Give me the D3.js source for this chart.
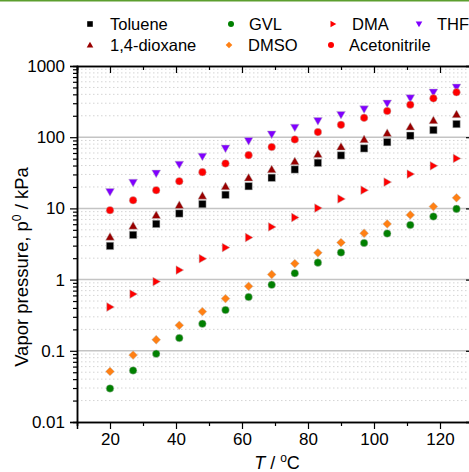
<!DOCTYPE html>
<html>
<head>
<meta charset="utf-8">
<script src="https://cdn.jsdelivr.net/npm/d3@7"></script>
<style>
  html, body { margin: 0; padding: 0; background: #fff; overflow: hidden; }
  svg { display: block; font-family: "Liberation Sans", Arial, sans-serif; }
</style>
</head>
<body>
<svg id="chart" width="469" height="472"></svg>
<script>
// Temperatures (°C) at which the vapor pressures were evaluated
const temperatures = [20, 27, 34, 41, 48, 55, 62, 69, 76, 83, 90, 97, 104, 111, 118, 125];

// Vapor pressure, kPa
const toluene      = [2.97, 4.24, 6.05, 8.48, 11.5, 15.5, 20.5, 26.9, 35.2, 43.6, 55.5, 69.6, 85.3, 105, 126, 153];
const dioxane      = [3.97, 5.67, 8.02, 11.1, 15.0, 20.3, 26.9, 35.2, 45.7, 57.8, 73.3, 93, 114, 140, 172, 209];
const gvl          = [0.0296, 0.053, 0.091, 0.151, 0.240, 0.374, 0.569, 0.845, 1.23, 1.73, 2.40, 3.27, 4.44, 5.86, 7.69, 9.84];
const dmso         = [0.0513, 0.087, 0.143, 0.228, 0.355, 0.541, 0.805, 1.18, 1.68, 2.38, 3.31, 4.48, 6.05, 8.11, 10.6, 14.1];
const dma          = [0.412, 0.627, 0.937, 1.36, 1.97, 2.82, 3.9, 5.5, 7.45, 10.1, 13.6, 18.0, 23.4, 30.3, 39.6, 50.3];
const acetonitrile = [9.44, 13.0, 18.0, 24.1, 32.3, 42.8, 56.0, 72.8, 93, 118, 149, 187, 233, 286, 351, 427];
const thf          = [17.1, 23.1, 31.0, 41.4, 53.7, 69.6, 89, 110, 137, 170, 207, 248, 299, 355, 427, 502];

// Axis ticks
const xMajorTicks = [20, 40, 60, 80, 100, 120];
const xMinorTicks = [10, 30, 50, 70, 90, 110, 130];
const yMajorTicks = [0.01, 0.1, 1, 10, 100, 1000];
const yTickLabels = ["0.01", "0.1", "1", "10", "100", "1000"];

// Series in legend order
const series = [
  { name: "Toluene",      values: toluene,      color: "#000000", shape: "square" },
  { name: "1,4-dioxane",  values: dioxane,      color: "#990000", shape: "triUp" },
  { name: "GVL",          values: gvl,          color: "#008000", shape: "circle" },
  { name: "DMSO",         values: dmso,         color: "#ff8014", shape: "diamond" },
  { name: "DMA",          values: dma,          color: "#ff0000", shape: "triRight" },
  { name: "Acetonitrile", values: acetonitrile, color: "#ff0000", shape: "circle" },
  { name: "THF",          values: thf,          color: "#8000ff", shape: "triDown" }
];

const svg = d3.select("#chart");
const W = 469, H = 472;
const plot = { left: 77, right: 473, top: 66, bottom: 422 };

const x = d3.scaleLinear().domain([10, 130]).range([plot.left, plot.right]);
const y = d3.scaleLog().domain([0.01, 1000]).range([plot.bottom, plot.top]);

// Thin green rule along the very top
svg.append("rect").attr("x", 0).attr("y", 0).attr("width", W).attr("height", 1.5).attr("fill", "#5c9e2e");

// Marker path generator; s is the nominal marker width in px
function markerPath(shape, s) {
  const h = s / 2;
  switch (shape) {
    case "square":  return `M${-h},${-h}H${h}V${h}H${-h}Z`;
    case "circle":  return `M${h},0A${h},${h} 0 1,1 ${-h},0A${h},${h} 0 1,1 ${h},0Z`;
    case "diamond": return `M0,${-h}L${h},0L0,${h}L${-h},0Z`;
    case "triUp":   return `M0,${-h}L${h},${h * 0.75}L${-h},${h * 0.75}Z`;
    case "triDown": return `M0,${h}L${h},${-h * 0.75}L${-h},${-h * 0.75}Z`;
    case "triRight":return `M${h},0L${-h * 0.75},${h}L${-h * 0.75},${-h}Z`;
  }
}

// Grid: minor dotted lines inside each decade, solid lines at each decade
const minorY = [];
for (let e = -2; e < 3; e++) for (let m = 2; m <= 9; m++) minorY.push(m * Math.pow(10, e));
const grid = svg.append("g");
grid.selectAll("line.minor").data(minorY).join("line")
  .attr("x1", plot.left).attr("x2", plot.right)
  .attr("y1", d => y(d)).attr("y2", d => y(d))
  .attr("stroke", "#d4d4d4").attr("stroke-width", 1).attr("stroke-dasharray", "1.5,2.5");
grid.selectAll("line.major").data(yMajorTicks.slice(1, -1)).join("line")
  .attr("x1", plot.left).attr("x2", plot.right)
  .attr("y1", d => y(d)).attr("y2", d => y(d))
  .attr("stroke", "#c4c4c4").attr("stroke-width", 1.5);

// Axes
const axisColor = "#000";
const fmt = d => yTickLabels[yMajorTicks.indexOf(d)];

const gBottom = svg.append("g").attr("transform", `translate(0,${plot.bottom})`)
  .call(d3.axisBottom(x).tickValues(xMajorTicks).tickSize(7).tickPadding(4).tickFormat(d3.format("d")));
svg.append("g").attr("transform", `translate(0,${plot.bottom})`)
  .call(d3.axisBottom(x).tickValues(xMinorTicks).tickSize(4).tickFormat(""));

svg.append("g").attr("transform", `translate(0,${plot.top})`)
  .call(d3.axisBottom(x).tickValues(xMajorTicks).tickSize(7).tickFormat(""));
svg.append("g").attr("transform", `translate(0,${plot.top})`)
  .call(d3.axisBottom(x).tickValues(xMinorTicks).tickSize(4).tickFormat(""));

const gLeft = svg.append("g").attr("transform", `translate(${plot.left},0)`)
  .call(d3.axisLeft(y).tickValues(yMajorTicks).tickSize(7).tickPadding(5).tickFormat(fmt));
svg.append("g").attr("transform", `translate(${plot.left},0)`)
  .call(d3.axisLeft(y).tickValues(minorY).tickSize(4).tickFormat(""));

svg.append("g").attr("transform", `translate(${plot.right},0)`)
  .call(d3.axisLeft(y).tickValues(yMajorTicks).tickSize(7).tickFormat(""));
svg.append("g").attr("transform", `translate(${plot.right},0)`)
  .call(d3.axisLeft(y).tickValues(minorY).tickSize(4).tickFormat(""));

svg.selectAll(".domain").attr("stroke", axisColor).attr("stroke-width", 1.5);
svg.selectAll(".tick line").attr("stroke", axisColor).attr("stroke-width", 1.2);
svg.selectAll(".tick text").attr("fill", "#000").style("font-size", "17px")
  .style("font-family", "'Liberation Sans', Arial, sans-serif");

// Data markers, drawn in reverse legend order
const marks = svg.append("g");
series.slice().reverse().forEach(s => {
  const size = s.shape === "circle" ? 7.6 : s.shape === "square" ? 7.4 : 8.8;
  marks.append("g").selectAll("path").data(s.values.map((v, i) => [temperatures[i], v])).join("path")
    .attr("transform", d => `translate(${x(d[0])},${y(d[1])})`)
    .attr("d", markerPath(s.shape, size))
    .attr("fill", s.color)
    .attr("stroke", "#bdbdbd").attr("stroke-width", 0.6).attr("stroke-opacity", 0.8);
});

// Legend
const legendPos = [
  { mx: 90,  tx: 110, y: 24 }, { mx: 90,  tx: 110, y: 45 },
  { mx: 231, tx: 249, y: 24 }, { mx: 229, tx: 248, y: 45 },
  { mx: 333, tx: 352, y: 24 }, { mx: 331, tx: 349, y: 45 },
  { mx: 419, tx: 437, y: 24 }
];
const legend = svg.append("g");
series.forEach((s, i) => {
  const p = legendPos[i];
  const size = s.shape === "circle" ? 6 : s.shape === "square" ? 5.6 : 6.6;
  legend.append("path").attr("transform", `translate(${p.mx},${p.y})`)
    .attr("d", markerPath(s.shape, size)).attr("fill", s.color);
  legend.append("text").attr("x", p.tx).attr("y", p.y).attr("dy", "0.36em")
    .attr("font-size", 16.5).attr("fill", "#000").text(s.name);
});

// Axis titles
const yTitle = svg.append("text")
  .attr("transform", `translate(28,267) rotate(-90)`)
  .attr("text-anchor", "middle").attr("font-size", 18.5).attr("fill", "#000");
yTitle.append("tspan").text("Vapor pressure, p");
yTitle.append("tspan").attr("font-size", 12).attr("dy", -7).text("0");
yTitle.append("tspan").attr("dy", 7).text(" / kPa");

const xTitle = svg.append("text")
  .attr("x", 277).attr("y", 469)
  .attr("text-anchor", "middle").attr("font-size", 18).attr("fill", "#000");
xTitle.append("tspan").attr("font-style", "italic").text("T");
xTitle.append("tspan").text(" / ");
xTitle.append("tspan").attr("font-size", 12).attr("dy", -7).text("o");
xTitle.append("tspan").attr("dy", 7).text("C");
</script>
</body>
</html>
